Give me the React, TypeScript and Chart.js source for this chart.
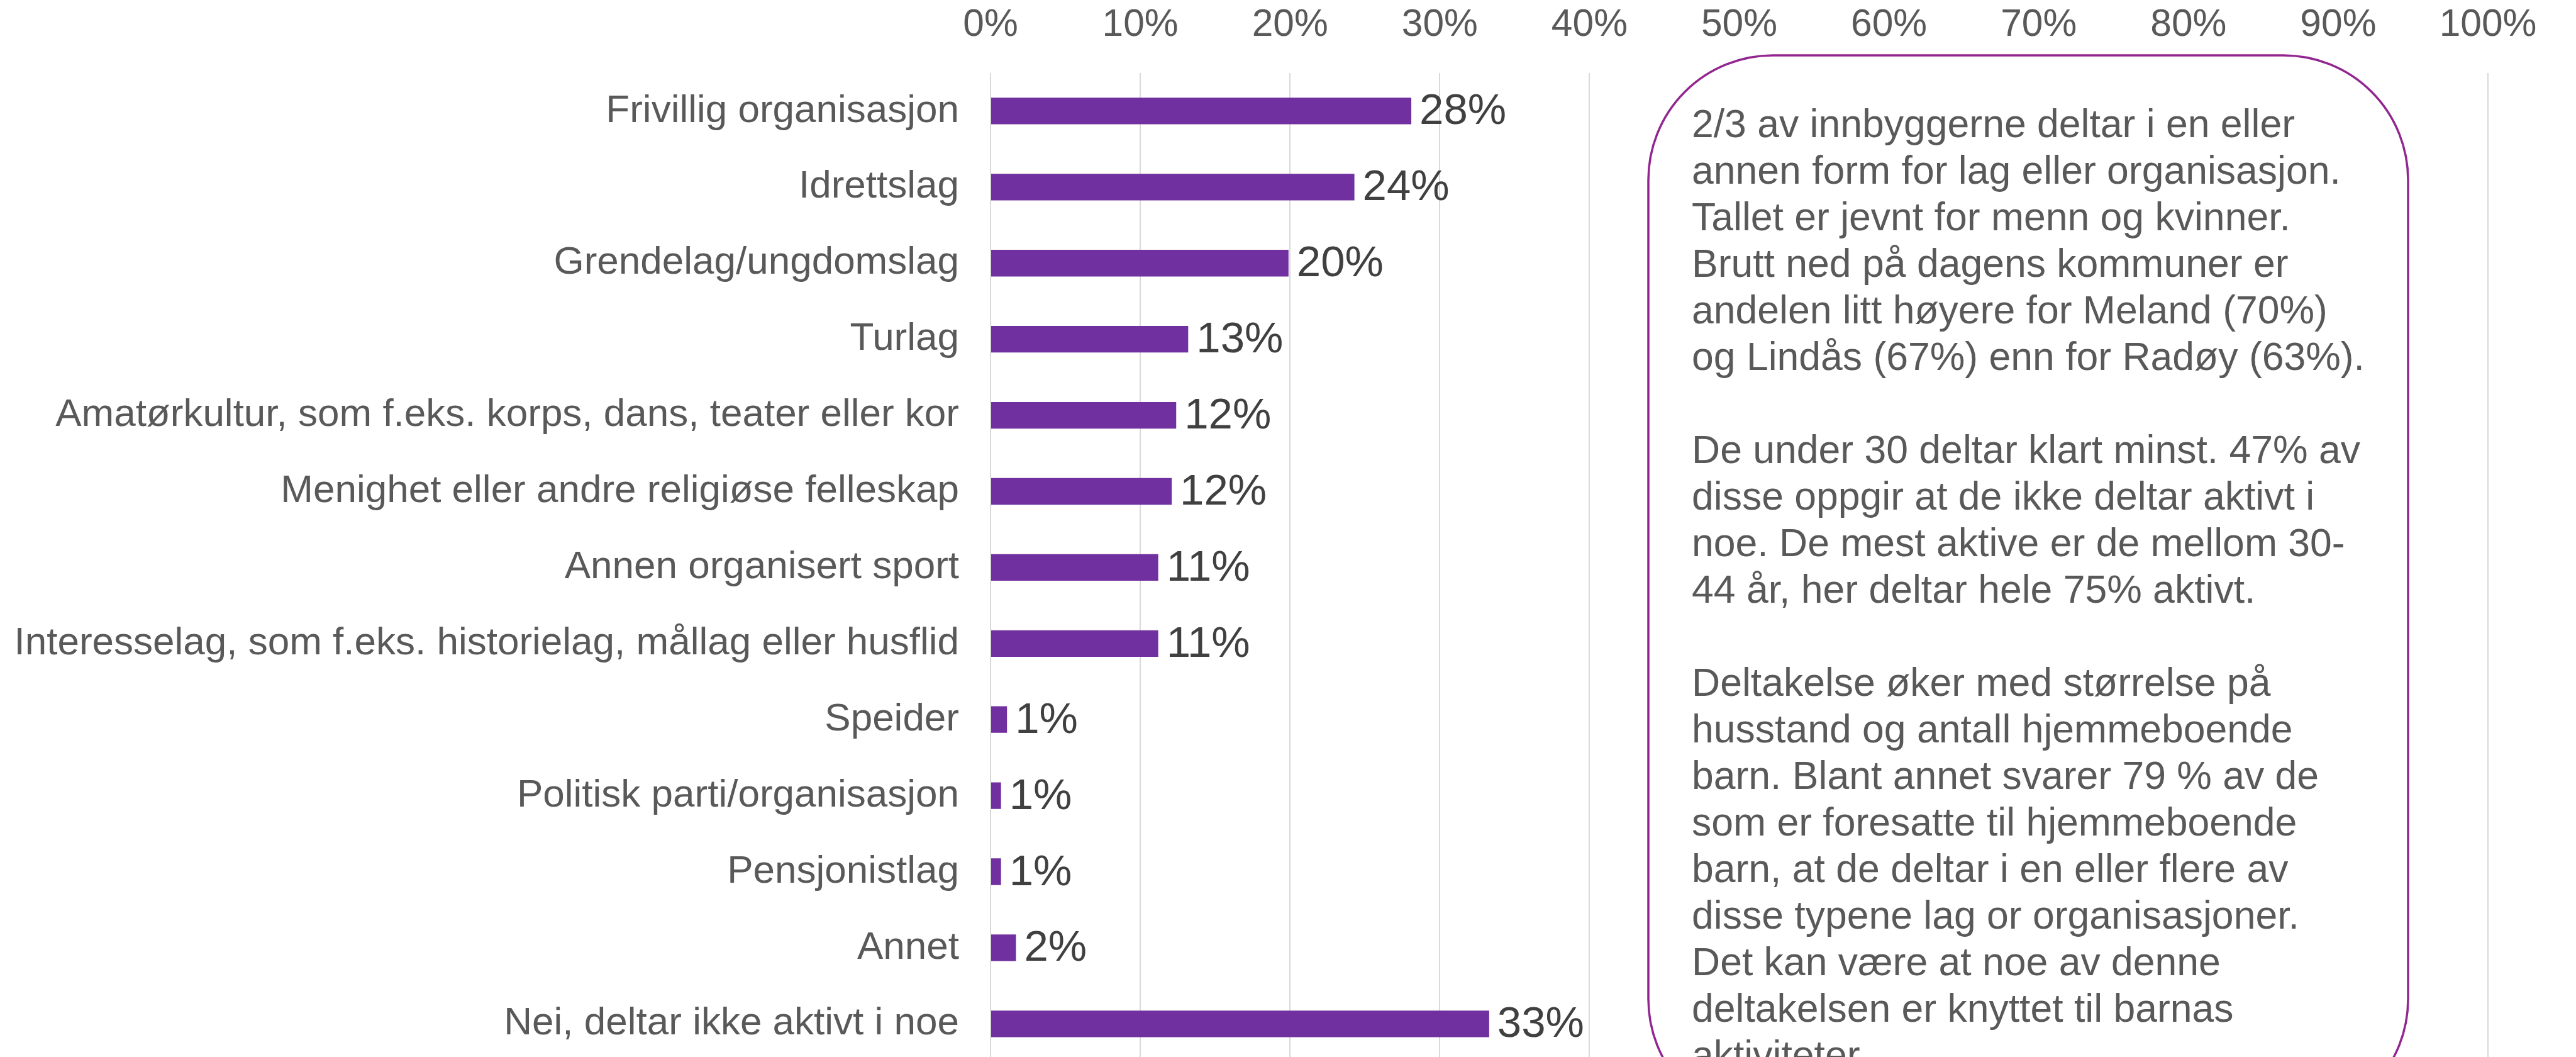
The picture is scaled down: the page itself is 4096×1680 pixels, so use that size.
import React, { useEffect, useRef } from 'react';
import { Chart, registerables } from 'chart.js';

Chart.register(...registerables);

const categories = [
  'Frivillig organisasjon',
  'Idrettslag',
  'Grendelag/ungdomslag',
  'Turlag',
  'Amatørkultur, som f.eks. korps, dans, teater eller kor',
  'Menighet eller andre religiøse felleskap',
  'Annen organisert sport',
  'Interesselag, som f.eks. historielag, mållag eller husflid',
  'Speider',
  'Politisk parti/organisasjon',
  'Pensjonistlag',
  'Annet',
  'Nei, deltar ikke aktivt i noe',
];

const values = [28.1, 24.3, 19.9, 13.2, 12.4, 12.1, 11.2, 11.2, 1.1, 0.7, 0.7, 1.7, 33.3];
const valueLabels = ['28%', '24%', '20%', '13%', '12%', '12%', '11%', '11%', '1%', '1%', '1%', '2%', '33%'];

const xMin = 0;
const xMax = 100;
const xStep = 10;

const noteLines = [
  '2/3 av innbyggerne deltar i en eller',
  'annen form for lag eller organisasjon.',
  'Tallet er jevnt for menn og kvinner.',
  'Brutt ned på dagens kommuner er',
  'andelen litt høyere for Meland (70%)',
  'og Lindås (67%) enn for Radøy (63%).',
  '',
  'De under 30 deltar klart minst. 47% av',
  'disse oppgir at de ikke deltar aktivt i',
  'noe. De mest aktive er de mellom 30-',
  '44 år, her deltar hele 75% aktivt.',
  '',
  'Deltakelse øker med størrelse på',
  'husstand og antall hjemmeboende',
  'barn. Blant annet svarer 79 % av de',
  'som er foresatte til hjemmeboende',
  'barn, at de deltar i en eller flere av',
  'disse typene lag or organisasjoner.',
  'Det kan være at noe av denne',
  'deltakelsen er knyttet til barnas',
  'aktiviteter.',
];

const FONT = '"Liberation Sans", Arial, Helvetica, sans-serif';
const W = 4096;
const H = 1680;
const CANVAS_H = 1775;

const valueLabelPlugin = {
  id: 'valueLabels',
  afterDatasetsDraw(chart: any) {
    const ctx = chart.ctx;
    const meta = chart.getDatasetMeta(0);
    ctx.save();
    ctx.font = `69px ${FONT}`;
    ctx.fillStyle = '#404040';
    ctx.textAlign = 'left';
    ctx.textBaseline = 'middle';
    meta.data.forEach((bar: any, i: number) => {
      ctx.fillText(valueLabels[i], bar.x + 13, bar.y + 2);
    });
    ctx.restore();
  },
};

const noteBoxPlugin = {
  id: 'noteBox',
  afterDraw(chart: any) {
    const ctx = chart.ctx;
    const x0 = 2621;
    const y0 = 88;
    const x1 = 3829;
    const y1 = 1786;
    const r = 198;
    ctx.save();
    ctx.beginPath();
    ctx.moveTo(x0 + r, y0);
    ctx.lineTo(x1 - r, y0);
    ctx.arcTo(x1, y0, x1, y0 + r, r);
    ctx.lineTo(x1, y1 - r);
    ctx.arcTo(x1, y1, x1 - r, y1, r);
    ctx.lineTo(x0 + r, y1);
    ctx.arcTo(x0, y1, x0, y1 - r, r);
    ctx.lineTo(x0, y0 + r);
    ctx.arcTo(x0, y0, x0 + r, y0, r);
    ctx.closePath();
    ctx.fillStyle = '#ffffff';
    ctx.fill();
    ctx.lineWidth = 3.5;
    ctx.strokeStyle = '#922690';
    ctx.stroke();

    ctx.font = `62.5px ${FONT}`;
    ctx.fillStyle = '#595959';
    ctx.textAlign = 'left';
    ctx.textBaseline = 'alphabetic';
    noteLines.forEach((line, i) => {
      if (line) ctx.fillText(line, 2690, 218 + i * 74);
    });
    ctx.restore();
  },
};

export default function App() {
  const canvasRef = useRef<HTMLCanvasElement | null>(null);

  useEffect(() => {
    document.body.style.margin = '0';
    document.body.style.overflow = 'hidden';
    const canvas = canvasRef.current;
    if (!canvas) return;
    const chart = new Chart(canvas, {
      type: 'bar',
      data: {
        labels: categories,
        datasets: [
          {
            data: values,
            backgroundColor: '#7030A0',
            borderWidth: 0,
            barPercentage: 0.35,
            categoryPercentage: 1,
          },
        ],
      },
      options: {
        indexAxis: 'y',
        animation: false,
        responsive: false,
        devicePixelRatio: 1,
        layout: { autoPadding: false, padding: { left: 0, right: 140, top: 0, bottom: 0 } },
        plugins: {
          legend: { display: false },
          tooltip: { enabled: false },
        },
        scales: {
          x: {
            position: 'top',
            min: xMin,
            max: xMax,
            grid: { color: '#d9d9d9', lineWidth: 2, drawTicks: false },
            border: { display: false },
            ticks: {
              stepSize: xStep,
              padding: 39,
              color: '#595959',
              font: { family: FONT, size: 60.5 },
              callback: (v: any) => `${v}%`,
            },
            afterFit: (scale: any) => {
              scale.height = 116;
            },
          },
          y: {
            grid: { display: false, drawTicks: false },
            border: { display: false },
            ticks: {
              padding: 50,
              color: '#595959',
              font: { family: FONT, size: 62 },
              autoSkip: false,
            },
            afterFit: (scale: any) => {
              scale.width = 1575;
            },
          },
        },
      },
      plugins: [valueLabelPlugin, noteBoxPlugin],
    });
    return () => chart.destroy();
  }, []);

  return (
    <div style={{ width: W, height: H, overflow: 'hidden', background: '#fff' }}>
      <canvas ref={canvasRef} width={W} height={CANVAS_H} style={{ display: 'block', width: W, height: CANVAS_H }} />
    </div>
  );
}
